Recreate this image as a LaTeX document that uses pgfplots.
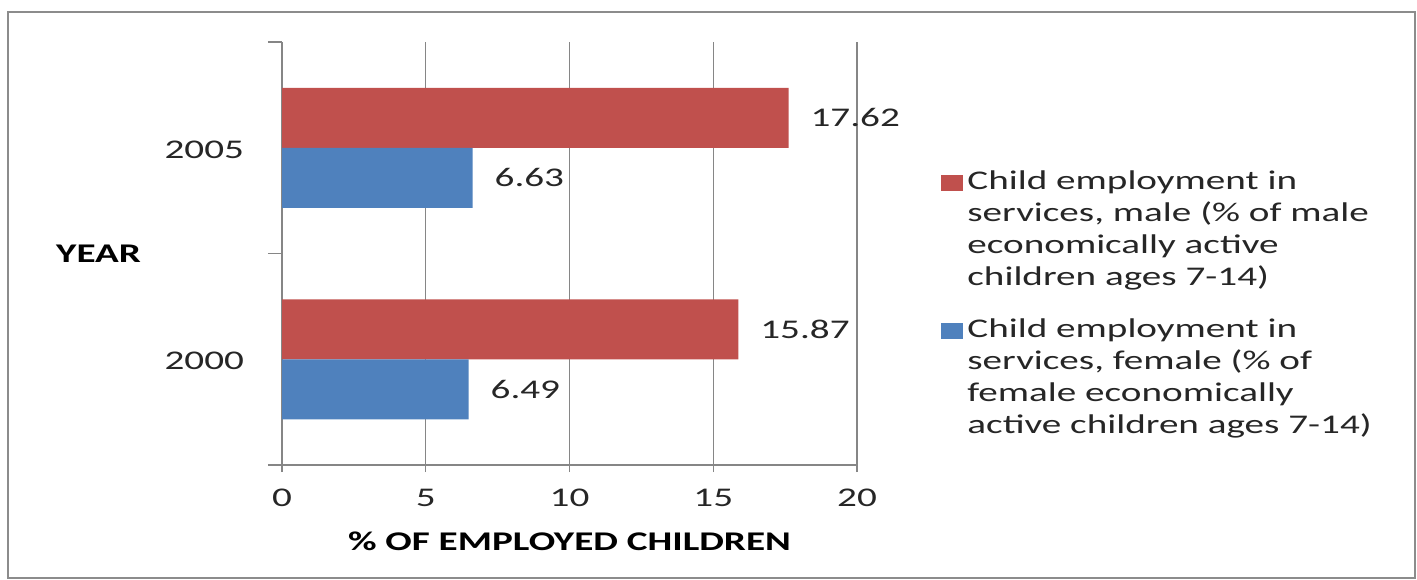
\documentclass[border=0pt]{standalone}
\usepackage{fontspec}
\setmainfont{Carlito}[FakeStretch=1.45]
\usepackage{pgfplots}
\pgfplotsset{compat=1.18}
\definecolor{exred}{HTML}{C0504D}
\definecolor{exblue}{HTML}{4F81BD}
\definecolor{gridgray}{HTML}{868686}
\definecolor{framegray}{HTML}{8C8C8C}
\begin{document}
\begin{tikzpicture}
\useasboundingbox (0,0) rectangle (708.5pt,-289.5pt);
\draw[framegray, line width=1.2pt] (4pt,-6pt) rectangle (707.5pt,-289pt);
\begin{axis}[
  at={(141pt,-232.5pt)}, anchor=south west,
  scale only axis, width=287.5pt, height=211.5pt,
  xmin=0, xmax=20, ymin=-0.5, ymax=1.5,
  xbar, bar width=30pt,
  axis x line*=bottom, axis y line*=left,
  axis line style={gridgray, line width=0.6pt, -},
  xtick={0,5,10,15,20},
  xmajorgrids, grid style={gridgray, line width=0.6pt},
  ytick={0,1}, yticklabels={2000,2005},
  minor ytick={-0.5,0.5,1.5},
  tick align=outside,
  major tick length=3.5pt, minor tick length=7pt,
  tick style={gridgray, line width=0.6pt},
  major y tick style={draw=none},
  /pgf/number format/assume math mode=true,
  ticklabel style={font=\fontsize{13.5}{16}\selectfont, text=black!85},
  xticklabel style={yshift=-5pt},
  yticklabel style={xshift=-12pt, yshift=-1pt},
  xlabel={\textbf{\% OF EMPLOYED CHILDREN}},
  xlabel style={at={(axis description cs:0.5,0)}, anchor=center, yshift=-38pt, font=\fontsize{13.5}{16}\selectfont},
  ylabel={\textbf{YEAR}},
  ylabel style={rotate=-90, at={(axis description cs:0,0.5)}, anchor=east, xshift=-67pt, font=\fontsize{13.5}{16}\selectfont},
  nodes near coords={\pgfmathprintnumber[fixed,precision=2,fixed zerofill]{\pgfplotspointmeta}},
  point meta=x,
  nodes near coords style={anchor=west, xshift=7.5pt, font=\fontsize{13.5}{16}\selectfont, text=black!85},
  legend style={at={(axis description cs:1.1357,0.716)}, anchor=north west, draw=none, fill=none,
    row sep=11pt, font=\fontsize{13.5}{16}\selectfont, cells={align=left}, text=black!85},
  legend cell align=left,
  legend image code/.code={\fill[#1] (0pt,19pt) rectangle (11pt,27pt);},
]
\addplot[fill=exred, draw=none, bar shift=15pt] coordinates {(15.87,0) (17.62,1)};
\addlegendentry{Child employment in\\services, male (\% of male\\economically active\\children ages 7-14)}
\addplot[fill=exblue, draw=none, bar shift=-15pt] coordinates {(6.49,0) (6.63,1)};
\addlegendentry{Child employment in\\services, female (\% of\\female economically\\active children ages 7-14)}
\end{axis}
\end{tikzpicture}
\end{document}
